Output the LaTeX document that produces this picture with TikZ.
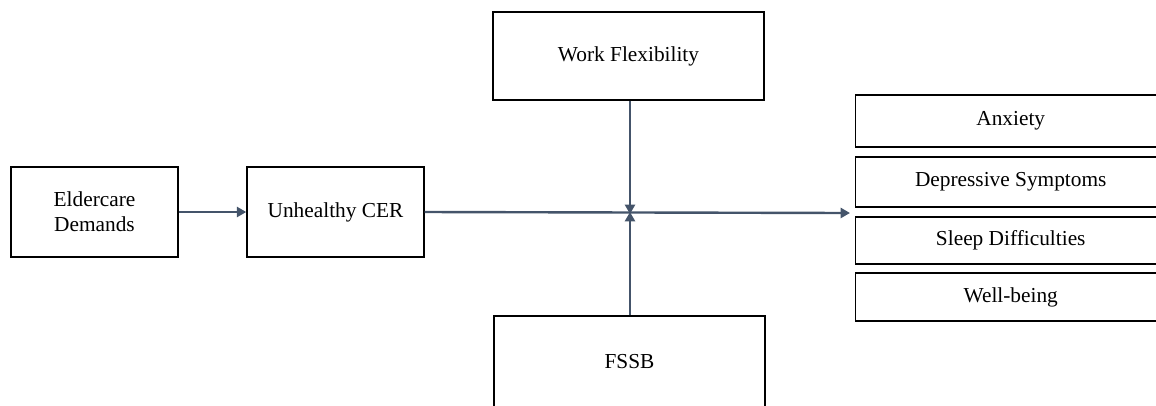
\documentclass[tikz,border=0pt]{standalone}
\usepackage{fontspec}
\setmainfont{Liberation Serif}
\usetikzlibrary{arrows.meta}
\definecolor{linkblue}{RGB}{68,84,106}
\tikzset{every picture/.style={line width=0.75pt}}
\tikzset{
  factor/.style={draw=black, line width=1.1pt, inner sep=0pt, align=center, font=\fontsize{16}{19}\selectfont},
  outcome/.style={factor, minimum width=232.5pt, anchor=west},
  link/.style={draw=linkblue, line width=1.8pt, -{Triangle[length=7pt,width=7.5pt]}}
}

\begin{document}
\begin{tikzpicture}[x=0.75pt,y=0.75pt,yscale=-1,xscale=1]
\useasboundingbox (0,0) rectangle (1156,405);

% predictors
\node [factor, minimum width=125pt, minimum height=67.5pt] (elder) at (94.5,212) {Eldercare\\Demands};
\node [factor, minimum width=132.75pt, minimum height=67.5pt] (cer) at (335.5,212) {Unhealthy CER};

% moderators
\node [factor, minimum width=203.25pt, minimum height=66pt] (flex) at (628.5,56) {Work Flexibility};
\node [factor, minimum width=203.25pt, minimum height=68.25pt] (fssb) at (629.5,361.5) {FSSB};

% outcomes
\node [outcome, minimum height=39pt] (anx) at (855,121) {Anxiety};
\node [outcome, minimum height=37.5pt] (dep) at (855,182) {Depressive Symptoms};
\node [outcome, minimum height=35.25pt] (slp) at (855,240.5) {Sleep Difficulties};
\node [outcome, minimum height=36pt] (well) at (855,297) {Well-being};

\coordinate (hub) at (630,213);
\coordinate (outs) at (850,213);

% paths
\draw [link] (elder) -- (cer);
\draw [link] (cer.east) -- (outs);
\draw [link] (flex.south -| hub) -- ([yshift=0.75pt]hub);
\draw [link] (fssb.north -| hub) -- ([yshift=-0.75pt]hub);

\end{tikzpicture}
\end{document}
